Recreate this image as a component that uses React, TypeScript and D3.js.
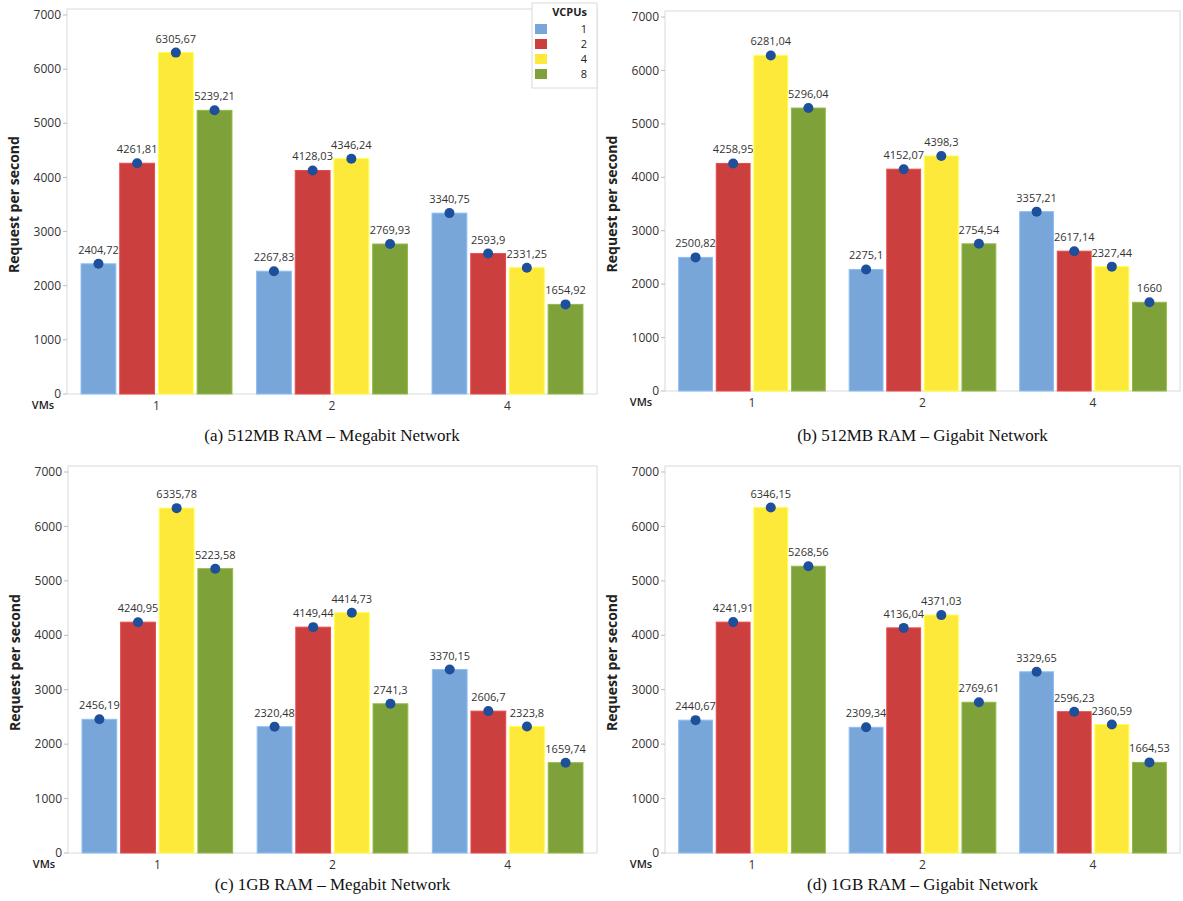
import * as d3 from 'd3';
import React from 'react';

// ----- data (requests per second) -----
const vmGroups = ['1', '2', '4'];
const vcpus = ['1', '2', '4', '8'];
const vcpuColors = ['#78a6d8', '#cc3f3f', '#fde93a', '#7fa13a'];

const megabit512 = [
  [2404.72, 4261.81, 6305.67, 5239.21],
  [2267.83, 4128.03, 4346.24, 2769.93],
  [3340.75, 2593.9, 2331.25, 1654.92],
];
const gigabit512 = [
  [2500.82, 4258.95, 6281.04, 5296.04],
  [2275.1, 4152.07, 4398.3, 2754.54],
  [3357.21, 2617.14, 2327.44, 1660],
];
const megabit1G = [
  [2456.19, 4240.95, 6335.78, 5223.58],
  [2320.48, 4149.44, 4414.73, 2741.3],
  [3370.15, 2606.7, 2323.8, 1659.74],
];
const gigabit1G = [
  [2440.67, 4241.91, 6346.15, 5268.56],
  [2309.34, 4136.04, 4371.03, 2769.61],
  [3329.65, 2596.23, 2360.59, 1664.53],
];
const yTicks = [0, 1000, 2000, 3000, 4000, 5000, 6000, 7000];

const captions = [
  '(a) 512MB RAM – Megabit Network',
  '(b) 512MB RAM – Gigabit Network',
  '(c) 1GB RAM – Megabit Network',
  '(d) 1GB RAM – Gigabit Network',
];

const SANS = '"Open Sans", "Noto Sans", sans-serif';
const SERIF = '"Liberation Serif", "DejaVu Serif", serif';

// comma as decimal separator, like the original labels
const fmt = (v) => String(v).replace('.', ',');

function Panel({ data, left, right, y0, y7000, caption, captionY, legend }) {
  const y = d3.scaleLinear().domain([0, 7000]).range([y0, y7000]);
  const x = d3.scaleBand().domain(vmGroups).range([left, right])
    .paddingInner(0.14).paddingOuter(0.08);
  const xInner = d3.scaleBand().domain(vcpus).range([0, x.bandwidth()]).paddingInner(0.1);
  const top = y7000 - 6;
  const midX = (left + right) / 2;
  const rowH = 15;

  return (
    <g>
      {/* frame */}
      <rect x={left} y={top} width={right - left} height={y0 - top}
        fill="none" stroke="#dadada" strokeWidth={1} />

      {/* y axis */}
      {yTicks.map(t => (
        <g key={t}>
          <line x1={left - 4} x2={left} y1={y(t)} y2={y(t)} stroke="#bdbdbd" />
          <text x={left - 6} y={y(t)} dy="0.35em" textAnchor="end"
            fontFamily={SANS} fontSize={12} fill="#333">{t}</text>
        </g>
      ))}
      <text transform={`translate(${left - 48},${(y0 + y7000) / 2}) rotate(-90)`}
        textAnchor="middle" fontFamily={SANS} fontSize={14} fontWeight={700} fill="#222">
        Request per second
      </text>

      {/* x axis */}
      <text x={left - 24} y={y0 + 15} textAnchor="middle" fontFamily={SANS}
        fontSize={11} fontWeight={600} fill="#222">VMs</text>
      {vmGroups.map(g => (
        <text key={g} x={x(g) + x.bandwidth() / 2} y={y0 + 16} textAnchor="middle"
          fontFamily={SANS} fontSize={12} fill="#333">{g}</text>
      ))}

      {/* bars, dots, labels */}
      {vmGroups.map((g, gi) => (
        <g key={g} transform={`translate(${x(g)},0)`}>
          {vcpus.map((c, ci) => {
            const v = data[gi][ci];
            const bx = xInner(c);
            const cx = bx + xInner.bandwidth() / 2;
            const col = vcpuColors[ci];
            return (
              <g key={c}>
                <rect x={bx} y={y(v)} width={xInner.bandwidth()} height={y0 - y(v)}
                  fill={col} stroke={d3.color(col).brighter(0.4).formatHex()} strokeWidth={1} />
                <circle cx={cx} cy={y(v)} r={5} fill="#1d4f9b" />
                <text x={cx} y={y(v) - 10} textAnchor="middle" fontFamily={SANS}
                  fontSize={11} fill="#333">{fmt(v)}</text>
              </g>
            );
          })}
        </g>
      ))}

      {legend && (
        <g>
          <rect x={right - 65} y={top - 6} width={65} height={85}
            fill="#fff" stroke="#dadada" />
          <text x={right - 10} y={top + 7} textAnchor="end" fontFamily={SANS}
            fontSize={11} fontWeight={700} fill="#222">VCPUs</text>
          {vcpus.map((c, ci) => (
            <g key={c}>
              <rect x={right - 62} y={top + 15 + ci * rowH} width={12} height={10}
                fill={vcpuColors[ci]} />
              <text x={right - 10} y={top + 20 + ci * rowH} dy="0.35em" textAnchor="end"
                fontFamily={SANS} fontSize={11} fill="#222">{c}</text>
            </g>
          ))}
        </g>
      )}

      <text x={midX} y={captionY} textAnchor="middle" fontFamily={SERIF}
        fontSize={17} fill="#111">{caption}</text>
    </g>
  );
}

export default function App() {
  return (
    <svg width={1183} height={901} style={{ position: 'absolute', left: 0, top: 0, background: '#fff' }}>
      <Panel data={megabit512} left={67} right={597} y0={394} y7000={15}
        caption={captions[0]} captionY={441} legend />
      <Panel data={gigabit512} left={665} right={1180} y0={391} y7000={17}
        caption={captions[1]} captionY={441} />
      <Panel data={megabit1G} left={68} right={597} y0={853} y7000={472}
        caption={captions[2]} captionY={890} />
      <Panel data={gigabit1G} left={665} right={1180} y0={853} y7000={472}
        caption={captions[3]} captionY={890} />
    </svg>
  );
}
